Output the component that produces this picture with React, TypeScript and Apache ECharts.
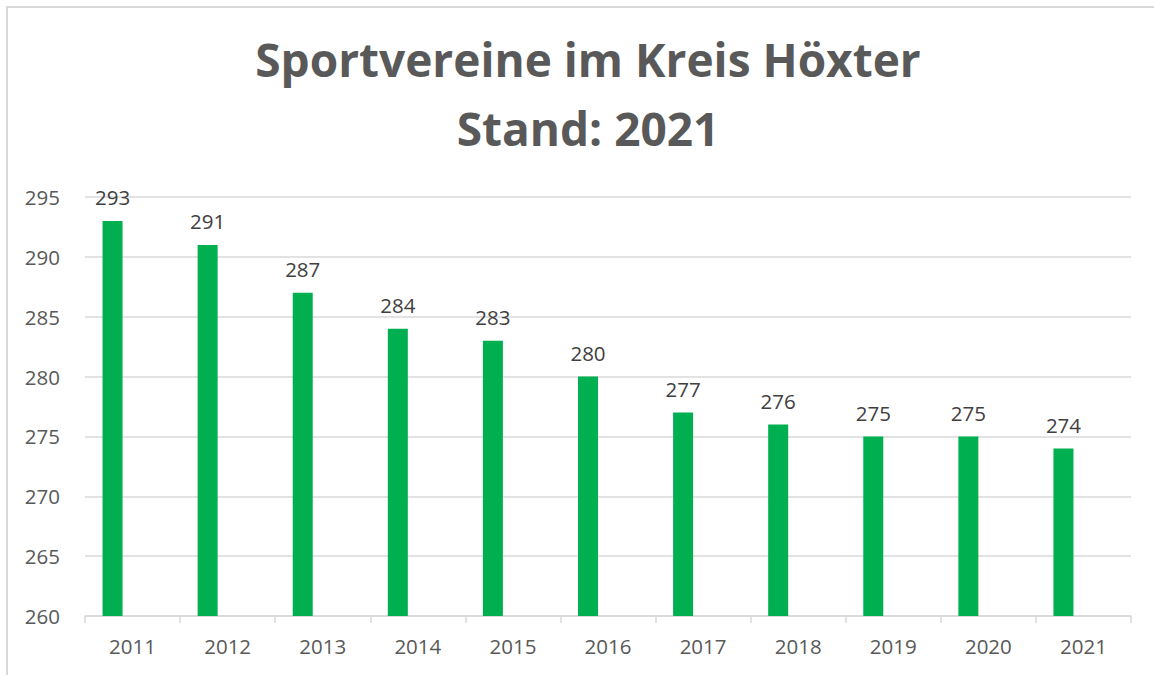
import React, { useEffect, useRef } from "react";
import * as echarts from "echarts";

const years = ["2011", "2012", "2013", "2014", "2015", "2016", "2017", "2018", "2019", "2020", "2021"];
const vereine = [293, 291, 287, 284, 283, 280, 277, 276, 275, 275, 274];
const titleLines = ["Sportvereine im Kreis Höxter", "Stand: 2021"];

export default function App() {
  const ref = useRef<HTMLDivElement>(null);
  useEffect(() => {
    if (!ref.current) return;
    const chart = echarts.init(ref.current, null, { renderer: "svg" });
    chart.setOption({
      animation: false,
      title: {
        text: titleLines.join("\n"),
        left: 583,
        textAlign: "center",
        top: 19,
        textStyle: {
          fontFamily: "Open Sans",
          fontWeight: "bold",
          fontSize: 46,
          lineHeight: 69,
          color: "#595959",
        },
      },
      grid: { left: 85, right: 23, top: 197, bottom: 59 },
      xAxis: {
        type: "category",
        data: years,
        axisLine: { lineStyle: { color: "#d9d9d9", width: 1.5 } },
        axisTick: { show: true, length: 7, lineStyle: { color: "#d9d9d9", width: 1.5 } },
        axisLabel: { color: "#595959", fontSize: 20.5, fontFamily: "Open Sans", margin: 19 },
      },
      yAxis: {
        type: "value",
        min: 260,
        max: 295,
        interval: 5,
        axisLine: { show: false },
        axisTick: { show: false },
        splitLine: { lineStyle: { color: "#d9d9d9", width: 1.5 } },
        axisLabel: { color: "#595959", fontSize: 20.5, fontFamily: "Open Sans", margin: 25 },
      },
      series: [
        {
          type: "bar",
          data: vereine,
          barWidth: 20,
          barGap: "100%",
          itemStyle: { color: "#00b050" },
          label: {
            show: true,
            position: "top",
            distance: 13,
            color: "#404040",
            fontSize: 20.5,
            fontFamily: "Open Sans",
          },
        },
        {
          type: "bar",
          data: years.map(() => null),
          barWidth: 20,
          barGap: "100%",
        },
      ],
    });
    return () => chart.dispose();
  }, []);
  return (
    <div style={{ position: "absolute", left: 0, top: 0, width: 1154, height: 675, overflow: "hidden", background: "#fff" }}>
      <div
        style={{
          position: "absolute",
          left: 6,
          top: 6,
          width: 1200,
          height: 720,
          borderTop: "2px solid #d9d9d9",
          borderLeft: "2px solid #d9d9d9",
        }}
      />
      <div ref={ref} style={{ position: "absolute", left: 0, top: 0, width: 1154, height: 675 }} />
    </div>
  );
}
